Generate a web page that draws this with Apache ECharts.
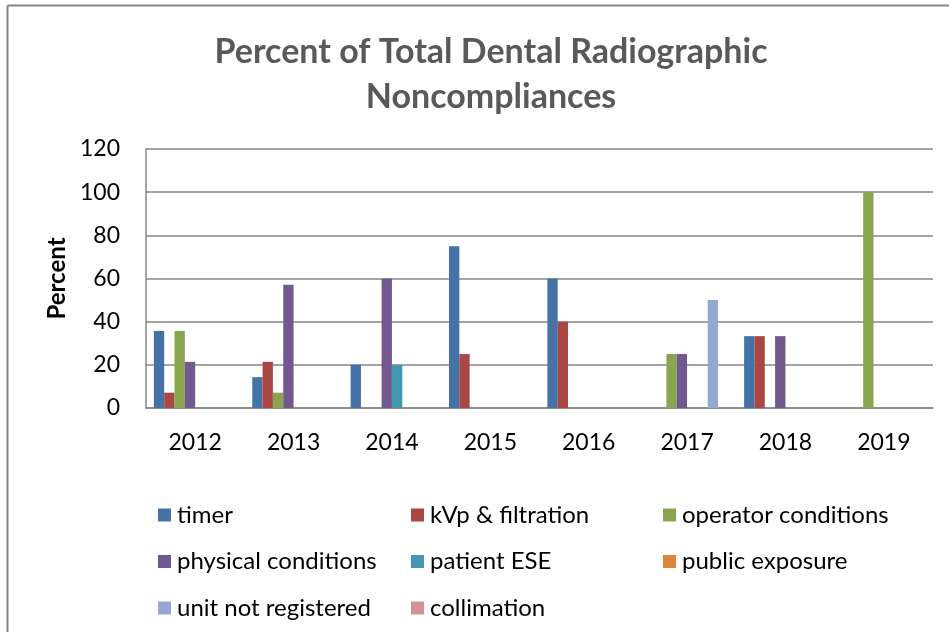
<!DOCTYPE html>
<html>
<head>
<meta charset="utf-8">
<script src="https://cdn.jsdelivr.net/npm/echarts@6/dist/echarts.min.js"></script>
<style>
  html, body { margin: 0; padding: 0; background: #fff; }
  #chart { width: 949px; height: 632px; }
</style>
</head>
<body>
<div id="chart"></div>
<script>
// years on the x axis
var years = ['2012', '2013', '2014', '2015', '2016', '2017', '2018', '2019'];

// percent per year, one array per noncompliance type
var timer = [35.7, 14.3, 20, 75, 60, 0, 33.3, 0];
var kvpFiltration = [7.1, 21.4, 0, 25, 40, 0, 33.3, 0];
var operatorConditions = [35.7, 7.1, 0, 0, 0, 25, 0, 100];
var physicalConditions = [21.4, 57.1, 60, 0, 0, 25, 33.3, 0];
var patientESE = [0, 0, 20, 0, 0, 0, 0, 0];
var publicExposure = [0, 0, 0, 0, 0, 0, 0, 0];
var unitNotRegistered = [0, 0, 0, 0, 0, 50, 0, 0];
var collimation = [0, 0, 0, 0, 0, 0, 0, 0];

var yTicks = [0, 20, 40, 60, 80, 100, 120];

var seriesList = [
    { name: 'timer', data: timer, color: '#4572A7' },
    { name: 'kVp & filtration', data: kvpFiltration, color: '#AA4643' },
    { name: 'operator conditions', data: operatorConditions, color: '#89A54E' },
    { name: 'physical conditions', data: physicalConditions, color: '#71588F' },
    { name: 'patient ESE', data: patientESE, color: '#4198AF' },
    { name: 'public exposure', data: publicExposure, color: '#DB843D' },
    { name: 'unit not registered', data: unitNotRegistered, color: '#93A9CF' },
    { name: 'collimation', data: collimation, color: '#D19392' }
];

var font = 'Lato, "Open Sans", sans-serif';

function legendColumn(left, names) {
    return {
        orient: 'vertical',
        left: left,
        top: 498,
        height: 134,
        itemWidth: 13,
        itemHeight: 13,
        itemGap: 22.5,
        icon: 'rect',
        data: names,
        textStyle: { fontFamily: font, fontSize: 24, color: '#000', padding: [0, 0, 0, 1] }
    };
}

var chart = echarts.init(document.getElementById('chart'));
chart.setOption({
    animation: false,
    title: {
        text: 'Percent of Total Dental Radiographic\nNoncompliances',
        left: 486,
        textAlign: 'center',
        top: 25,
        textStyle: { fontFamily: font, fontSize: 34, fontWeight: 'bold', color: '#595959', lineHeight: 45 }
    },
    legend: [
        legendColumn(153, ['timer', 'physical conditions', 'unit not registered']),
        legendColumn(406, ['kVp & filtration', 'patient ESE', 'collimation']),
        legendColumn(658, ['operator conditions', 'public exposure'])
    ],
    grid: { left: 146, right: 16, top: 149, bottom: 224 },
    xAxis: {
        type: 'category',
        data: years,
        axisLine: { lineStyle: { color: '#868686', width: 1.5 } },
        axisTick: { show: false },
        axisLabel: { fontFamily: font, fontSize: 23, color: '#000', margin: 23 }
    },
    yAxis: {
        type: 'value',
        min: yTicks[0],
        max: yTicks[yTicks.length - 1],
        interval: 20,
        name: 'Percent',
        nameLocation: 'middle',
        nameGap: 76,
        nameRotate: 90,
        nameTextStyle: { fontFamily: font, fontSize: 24, fontWeight: 'bold', color: '#000' },
        axisLine: { show: true, lineStyle: { color: '#868686', width: 1.5 } },
        axisTick: { show: false },
        splitLine: { lineStyle: { color: '#868686', width: 1.5 } },
        axisLabel: { fontFamily: font, fontSize: 23, color: '#000', margin: 26 }
    },
    graphic: [
        { type: 'line', shape: { x1: 7.5, y1: 5.5, x2: 949, y2: 5.5 }, style: { stroke: '#868686', lineWidth: 2 } },
        { type: 'line', shape: { x1: 7.5, y1: 5.5, x2: 7.5, y2: 632 }, style: { stroke: '#868686', lineWidth: 2 } }
    ],
    series: seriesList.map(function (s) {
        return {
            name: s.name,
            type: 'bar',
            data: s.data,
            barGap: '0%',
            barCategoryGap: '16%',
            itemStyle: { color: s.color }
        };
    })
});
</script>
</body>
</html>
